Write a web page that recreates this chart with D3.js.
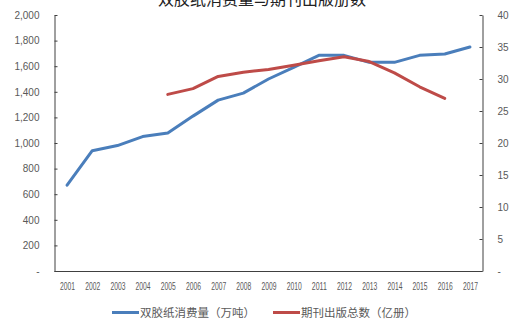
<!DOCTYPE html>
<html>
<head>
<meta charset="utf-8">
<script src="https://cdn.jsdelivr.net/npm/d3@7/dist/d3.min.js"></script>
<style>
  html, body { margin: 0; padding: 0; background: #fff; }
  svg { display: block; }
  text { font-family: "Liberation Sans", "DejaVu Sans", sans-serif; }
  .cjk { font-family: "Noto Sans CJK SC", sans-serif; }
</style>
</head>
<body>
<svg id="chart" width="520" height="324"></svg>
<script>
// Years on the category axis
const years = ["2001","2002","2003","2004","2005","2006","2007","2008","2009",
               "2010","2011","2012","2013","2014","2015","2016","2017"];
// Offset paper consumption (10k tonnes), left axis
const paperUse = [670, 940, 980, 1050, 1078, 1210, 1335, 1390, 1500,
                  1590, 1685, 1685, 1630, 1630, 1685, 1695, 1750];
// Total periodical copies printed (100m copies), right axis
const periodicals = [null, null, null, null, 27.6, 28.5, 30.4, 31.05, 31.5,
                     32.15, 32.85, 33.48, 32.72, 30.95, 28.78, 26.97, null];
const leftTicks = [0, 200, 400, 600, 800, 1000, 1200, 1400, 1600, 1800, 2000];
const rightTicks = [0, 5, 10, 15, 20, 25, 30, 35, 40];
const seriesNames = ["双胶纸消费量（万吨）", "期刊出版总数（亿册）"];
const titleText = "双胶纸消费量与期刊出版册数";

const svg = d3.select("#chart");
const plotL = 54.5, plotR = 482.5, plotT = 15, plotB = 271;

const x = d3.scalePoint().domain(years).range([plotL, plotR]).padding(0.5);
const yL = d3.scaleLinear().domain([0, 2000]).range([plotB, plotT]);
const yR = d3.scaleLinear().domain([0, 40]).range([plotB, plotT]);

const fmtL = v => v === 0 ? "-" : d3.format(",")(v);
const fmtR = v => v === 0 ? "-" : String(v);

// Title (sits at the very top edge)
svg.append("text").attr("class", "cjk")
  .attr("x", 262).attr("y", 5)
  .attr("text-anchor", "middle")
  .attr("font-size", 16).attr("fill", "#222")
  .text(titleText);

// Left axis
const gL = svg.append("g").attr("transform", `translate(${plotL},0)`)
  .call(d3.axisLeft(yL).tickValues(leftTicks).tickFormat(fmtL).tickSizeInner(-3).tickSizeOuter(0).tickPadding(15));
// Right axis
const gR = svg.append("g").attr("transform", `translate(${plotR},0)`)
  .call(d3.axisRight(yR).tickValues(rightTicks).tickFormat(fmtR).tickSizeInner(-3).tickSizeOuter(0).tickPadding(15));
[gL, gR].forEach(g => {
  g.select(".domain").attr("stroke", "#404040");
  g.selectAll(".tick line").attr("stroke", "#404040");
  g.selectAll(".tick text").attr("fill", "#595959").attr("font-size", 10)
    .style("font-family", "'Liberation Sans', sans-serif");
});

// Category axis
const gX = svg.append("g").attr("transform", `translate(0,${plotB})`)
  .call(d3.axisBottom(x).tickSize(0).tickPadding(12));
gX.select(".domain").attr("stroke", "#404040").attr("d", `M${plotL},0.5H${plotR}`);
gX.selectAll(".tick text").attr("fill", "#595959").attr("font-size", 10)
  .attr("textLength", 15).attr("lengthAdjust", "spacingAndGlyphs")
  .style("font-family", "'Liberation Sans', sans-serif");

// Series lines
const lineL = d3.line().x((d, i) => x(years[i])).y(d => yL(d));
const lineR = d3.line().defined(d => d !== null).x((d, i) => x(years[i])).y(d => yR(d));

svg.append("path").datum(paperUse)
  .attr("fill", "none").attr("stroke", "#4a7ebb").attr("stroke-width", 3)
  .attr("stroke-linejoin", "round").attr("stroke-linecap", "round")
  .attr("d", lineL);
svg.append("path").datum(periodicals)
  .attr("fill", "none").attr("stroke", "#be4b48").attr("stroke-width", 3)
  .attr("stroke-linejoin", "round").attr("stroke-linecap", "round")
  .attr("d", lineR);

// Legend
const legend = [
  { name: seriesNames[0], color: "#4a7ebb", x: 112 },
  { name: seriesNames[1], color: "#be4b48", x: 273 }
];
const lg = svg.append("g");
legend.forEach(l => {
  lg.append("line").attr("x1", l.x).attr("x2", l.x + 27)
    .attr("y1", 312.5).attr("y2", 312.5)
    .attr("stroke", l.color).attr("stroke-width", 3);
  lg.append("text").attr("class", "cjk")
    .attr("x", l.x + 28).attr("y", 316.5)
    .attr("font-size", 11.5).attr("fill", "#595959")
    .text(l.name);
});
</script>
</body>
</html>
